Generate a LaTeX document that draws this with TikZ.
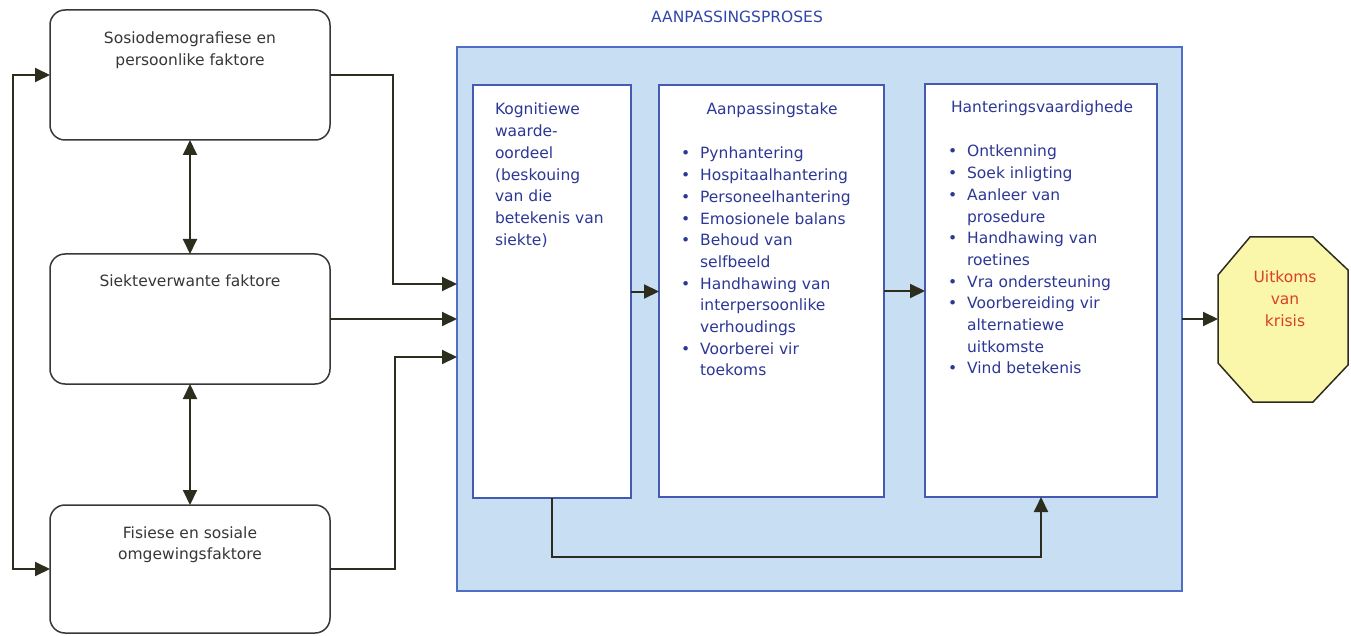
\documentclass[tikz,border=0pt]{standalone}
\usepackage{fontspec}
\setmainfont{DejaVu Sans}
\usetikzlibrary{arrows.meta,calc}
\definecolor{lblue}{RGB}{200,222,242}
\definecolor{bborder}{RGB}{80,110,200}
\definecolor{iborder}{RGB}{70,90,180}
\definecolor{btext}{RGB}{45,55,150}
\definecolor{ttext}{RGB}{50,70,170}
\definecolor{conn}{RGB}{45,45,30}
\definecolor{octfill}{RGB}{250,246,170}
\definecolor{rtext}{RGB}{220,65,35}
\definecolor{gtext}{RGB}{55,55,55}
\begin{document}
\begin{tikzpicture}[x=1pt,y=-1pt,
  every node/.style={inner sep=0pt,outer sep=0pt},
  fbox/.style={draw=gtext,line width=1.5pt,fill=white,rounded corners=15pt,minimum width=280pt,minimum height=130pt},
  ibox/.style={draw=iborder,line width=1.3pt,fill=white},
  lbl/.style={font=\fontsize{15.5}{21.7}\selectfont},
  arr/.style={draw=conn,line width=2pt,-{Triangle[length=15pt,width=14pt]}},
  darr/.style={draw=conn,line width=2pt,{Triangle[length=15pt,width=14pt]}-{Triangle[length=15pt,width=14pt]}}
]
\useasboundingbox (0,0) rectangle (1351,636);
% left boxes
\node[fbox] (b1) at (190,75) {};
\node[fbox] (b2) at (190,319) {};
\node[fbox,minimum height=128pt] (b3) at (190,569) {};
\node[lbl,text=gtext,anchor=base] (t1) at (190,44) {\begin{tabular}[t]{@{}c@{}}Sosiodemografiese en\\persoonlike faktore\end{tabular}};
\node[lbl,text=gtext,anchor=base] (t2) at (190,287) {Siekteverwante faktore};
\node[lbl,text=gtext,anchor=base] (t3) at (190,538) {\begin{tabular}[t]{@{}c@{}}Fisiese en sosiale\\omgewingsfaktore\end{tabular}};
% process frame
\node[draw=bborder,line width=1.5pt,fill=lblue,minimum width=725pt,minimum height=544pt] (proses) at (819.5,319) {};
\node[lbl,text=ttext,anchor=base] (title) at (737,23) {AANPASSINGSPROSES};
\node[ibox,minimum width=158pt,minimum height=413pt] (k) at (552,291.5) {};
\node[ibox,minimum width=225pt,minimum height=412pt] (a) at (771.5,291) {};
\node[ibox,minimum width=232pt,minimum height=413pt] (h) at (1041,290.5) {};
\node[lbl,text=btext,anchor=base west] (kt) at (495,115) {\begin{tabular}[t]{@{}l@{}}Kognitiewe\\waarde-\\oordeel\\(beskouing\\van die\\betekenis van\\siekte)\end{tabular}};
\node[lbl,text=btext,anchor=base] (at) at (772,115) {Aanpassingstake};
\node[lbl,text=btext,anchor=base west] (al) at (681,159) {\begin{tabular}[t]{@{}l@{\hspace{10pt}}l@{}}
\textbullet & Pynhantering\\
\textbullet & Hospitaalhantering\\
\textbullet & Personeelhantering\\
\textbullet & Emosionele balans\\
\textbullet & Behoud van\\
 & selfbeeld\\
\textbullet & Handhawing van\\
 & interpersoonlike\\
 & verhoudings\\
\textbullet & Voorberei vir\\
 & toekoms\end{tabular}};
\node[lbl,text=btext,anchor=base] (ht) at (1042,113) {Hanteringsvaardighede};
\node[lbl,text=btext,anchor=base west] (hl) at (948,157) {\begin{tabular}[t]{@{}l@{\hspace{10pt}}l@{}}
\textbullet & Ontkenning\\
\textbullet & Soek inligting\\
\textbullet & Aanleer van\\
 & prosedure\\
\textbullet & Handhawing van\\
 & roetines\\
\textbullet & Vra ondersteuning\\
\textbullet & Voorbereiding vir\\
 & alternatiewe\\
 & uitkomste\\
\textbullet & Vind betekenis\end{tabular}};
% outcome octagon
\draw[draw=conn,line width=1.5pt,fill=octfill] (1250,237) -- (1313,237) -- (1348,270) -- (1348,365) -- (1313,402) -- (1253,402) -- (1218,363) -- (1218,275) -- cycle;
\node[minimum width=130pt,minimum height=165pt] (out) at (1283,319.5) {};
\node[lbl,text=rtext,anchor=base] (ot) at (1285,283) {\begin{tabular}[t]{@{}c@{}}Uitkoms\\van\\krisis\end{tabular}};
% connectors
\draw[darr] (b1.west) -- ++(-37,0) |- (b3.west);
\draw[darr] (b1.south) -- (b2.north);
\draw[darr] (b2.south) -- (b3.north);
\draw[arr] (b1.east) -- ++(63,0) |- ([yshift=35pt]proses.west);
\draw[arr] (b2.east) -- (proses.west);
\draw[arr] (b3.east) -- ++(65,0) |- ([yshift=-38pt]proses.west);
\draw[arr] (k.east) -- (a.west |- k.east);
\draw[arr] (a.east) -- (h.west |- a.east);
\draw[arr] (k.south) -- ++(0,59) -| (h.south);
\draw[arr] (proses.east) -- (out.west |- proses.east);
\end{tikzpicture}
\end{document}
